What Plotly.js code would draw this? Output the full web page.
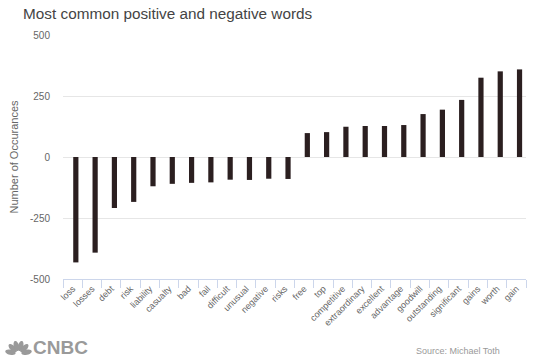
<!DOCTYPE html>
<html>
<head>
<meta charset="utf-8">
<script src="https://cdn.plot.ly/plotly-3.0.1.min.js"></script>
<style>html,body{margin:0;padding:0;background:#fff;}#chart{width:550px;height:360px;}</style>
</head>
<body>
<div id="chart"></div>
<script>
var words = ["loss","losses","debt","risk","liability","casualty","bad","fail","difficult","unusual","negative","risks","free","top","competitive","extraordinary","excellent","advantage","goodwill","outstanding","significant","gains","worth","gain"];
var counts = [-432,-392,-209,-184,-120,-110,-106,-104,-93,-94,-89,-90,98,102,124,127,127,131,176,194,234,325,351,359];
var yTicks = [-500,-250,0,250,500];

// logo feathers (decoration), built in pixel space then mapped to paper space
var M = {l: 63, r: 24, t: 35, b: 81}, W = 550, H = 360;
var pw = W - M.l - M.r, ph = H - M.t - M.b;
function px(X) { return (X - M.l) / pw; }
function py(Y) { return (H - M.b - Y) / ph; }
function feather(cx, cy, angDeg, r0, r1, hw) {
  var a = angDeg * Math.PI / 180, ux = Math.cos(a), uy = -Math.sin(a), vx = -uy, vy = ux;
  var mid = (r0 + r1) / 2, half = (r1 - r0) / 2, pts = [];
  for (var i = 0; i < 24; i++) {
    var t = i / 24 * 2 * Math.PI;
    var along = mid + half * Math.cos(t), across = hw * Math.sin(t);
    var X = cx + ux * along + vx * across, Y = cy + uy * along + vy * across;
    pts.push(px(X).toFixed(5) + ',' + py(Y).toFixed(5));
  }
  return 'M' + pts.join(' L') + ' Z';
}
var logoShapes = [168, 135, 105, 75, 45, 12].map(function (ang) {
  return {type: 'path', xref: 'paper', yref: 'paper', path: feather(18.5, 354, ang, 3, 13.5, 2.6),
          fillcolor: '#9a9a9a', line: {width: 0}, layer: 'above'};
});

var data = [{
  type: 'bar',
  x: words,
  y: counts,
  width: 0.27,
  offset: 0.03,
  marker: {color: '#2b1f20'},
  hoverinfo: 'x+y'
}];

var layout = {
  width: W, height: H,
  margin: M,
  paper_bgcolor: '#ffffff',
  plot_bgcolor: '#ffffff',
  showlegend: false,
  font: {family: 'Liberation Sans, Arial, sans-serif', color: '#666'},
  title: {
    text: 'Most common positive and negative words',
    x: 0.042, xref: 'container', xanchor: 'left',
    y: 1, yref: 'container', yanchor: 'top',
    pad: {t: 8},
    font: {size: 15.3, color: '#444', family: 'Liberation Sans, Arial, sans-serif'}
  },
  xaxis: {
    type: 'category',
    tickangle: -45,
    tickfont: {size: 9, color: '#666'},
    ticks: 'outside',
    tickson: 'boundaries',
    ticklen: 8,
    tickcolor: '#ccd6eb',
    showline: true,
    linecolor: '#ccd6eb',
    linewidth: 1,
    showgrid: false,
    zeroline: false,
    fixedrange: true
  },
  yaxis: {
    range: [-500, 500],
    tickvals: yTicks,
    ticktext: yTicks.map(String),
    tickfont: {size: 10, color: '#666'},
    showgrid: true,
    gridcolor: '#e6e6e6',
    zeroline: true,
    zerolinecolor: '#e6e6e6',
    zerolinewidth: 1,
    showline: false,
    ticks: '',
    ticklabelstandoff: 12,
    title: {text: 'Number of Occurances', font: {size: 11, color: '#666'}, standoff: 9},
    fixedrange: true
  },
  shapes: logoShapes,
  annotations: [
    {text: '<b>CNBC</b>', xref: 'paper', yref: 'paper', x: -0.069, y: -0.279, xanchor: 'left', yanchor: 'middle',
     showarrow: false, font: {size: 19, color: '#9a9a9a', family: 'Liberation Sans, Arial, sans-serif'}},
    {text: 'Source: Michael Toth', xref: 'paper', yref: 'paper', x: 0.948, y: -0.295, xanchor: 'right', yanchor: 'middle',
     showarrow: false, font: {size: 9, color: '#999'}}
  ]
};

Plotly.newPlot('chart', data, layout, {displayModeBar: false, staticPlot: true});
</script>
</body>
</html>
